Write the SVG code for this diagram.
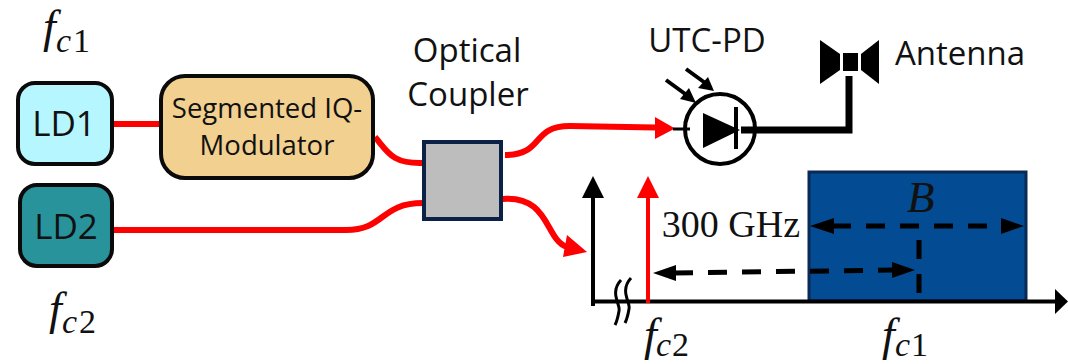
<svg xmlns="http://www.w3.org/2000/svg" width="1068" height="364" viewBox="0 0 1068 364">
<style>
.t{font-family:"Open Sans","Noto Sans",sans-serif;font-size:32px;fill:#111;text-anchor:middle}
.m{font-family:"Liberation Serif",serif;font-style:italic;fill:#111}
.f{font-size:46px}
.s{font-size:34px}
.u{font-style:normal}
.box{stroke:#0a0a0a;stroke-width:4}
.r{fill:none;stroke:#f00;stroke-width:6}
.k{fill:none;stroke:#000}
.d{fill:none;stroke:#000;stroke-width:5;stroke-dasharray:19 15}
</style>
<rect width="1068" height="364" fill="#fff"/>
<g id="connectors">
<path class="r" d="M113 124H161"/>
<path class="r" d="M113 230H346C385 230 380 203 423 203"/>
<path class="r" d="M375 137C388 152 392 164 423 163"/>
<path class="r" d="M505 155C545 155 530 126 570 126L655 127.500"/>
<polygon points="655,117 675,128.500 655,139" fill="#f00"/>
<path class="r" d="M502 199C550 195 545 240 567 247"/>
<polygon points="567,235 587,252 563,257" fill="#f00"/>
<path class="k" stroke-width="3" d="M673 129H690"/>
<path class="k" stroke-width="7" d="M741 130H849V76"/>
</g>
<g id="ld1"><rect class="box" x="18" y="83" width="94" height="81" rx="17" fill="#b5f6ff"/><text class="t" x="64" y="136" style="font-size:35px">LD1</text></g>
<g id="ld2"><rect class="box" x="20" y="185" width="92" height="81" rx="17" fill="#29939c"/><text class="t" x="66" y="239" style="font-size:35px">LD2</text></g>
<g id="modulator"><rect class="box" x="161" y="76" width="212" height="102" rx="24" fill="#f2d08f"/><text class="t" x="267" y="118" style="font-size:27.500px">Segmented IQ-</text><text class="t" x="267" y="155" style="font-size:27.500px">Modulator</text></g>
<g id="coupler"><rect x="424" y="142" width="77" height="77" fill="#bdbdbd" stroke="#0b2145" stroke-width="4"/><text class="t" x="467" y="62" style="font-size:33px">Optical</text><text class="t" x="468" y="106" style="font-size:33px">Coupler</text></g>
<g id="utc-pd">
<circle cx="720" cy="129" r="35" fill="none" stroke="#000" stroke-width="4"/>
<polygon points="703,113 740,130 703,148"/>
<path class="k" stroke-width="4" d="M736 107V149"/>
<path class="k" stroke-width="4" d="M666 80L688 96M686 69L708 85"/>
<polygon points="689,88 696,103 680,99"/>
<polygon points="708,77 714,91 698,88"/>
<text class="t" x="707" y="52" style="font-size:33px">UTC-PD</text>
</g>
<g id="antenna">
<rect x="843" y="53" width="15" height="18"/>
<polygon points="820,40 840,54 840,70 820,84"/>
<polygon points="879,40 861,54 861,70 879,84"/>
<text class="t" x="960" y="65" style="font-size:33px">Antenna</text>
</g>
<g id="spectrum">
<rect x="809" y="172" width="217" height="129" fill="#034b93" stroke="#0a2a55" stroke-width="3"/>
<path class="k" stroke-width="4" d="M593 306V196M593 301.500H1058"/>
<polygon points="582,198 593,176 604,198"/>
<polygon points="1055,289 1068,301.500 1068,301.500 1055,314"/>
<path class="k" stroke="#f00" style="stroke:#f00" stroke-width="4" d="M648 303V196"/>
<polygon points="637,198 648,176 659,198" fill="#f00"/>
<path class="k" stroke-width="3" d="M621 280C609 293 621 305 619 311C618 317 617 321 615 325M631 278C619 291 631 303 629 309C628 315 627 319 625 323"/>
<path class="d" d="M832 226H1003"/>
<polygon points="810,226 834,218 834,234"/>
<polygon points="1024,226 1001,218 1001,234"/>
<path class="d" d="M919 240V294"/>
<path class="d" d="M674 273L894 270"/>
<polygon points="653,273 676,265 676,281"/>
<polygon points="915,270 892,262 892,278"/>
<text x="731" y="237" style="font-family:'Liberation Serif',serif;font-size:38px;fill:#111;text-anchor:middle">300 GHz</text>
<text class="m" x="907" y="212" font-size="45">B</text>
</g>
<g id="labels">
<text class="m"><tspan class="f" x="43" y="42">f</tspan><tspan class="s" x="56" y="52">c</tspan><tspan class="s u" x="73" y="52">1</tspan></text>
<text class="m"><tspan class="f" x="49" y="324">f</tspan><tspan class="s" x="62" y="333">c</tspan><tspan class="s u" x="79" y="333">2</tspan></text>
<text class="m"><tspan class="f" x="644" y="350">f</tspan><tspan class="s" x="656" y="356">c</tspan><tspan class="s u" x="672" y="356">2</tspan></text>
<text class="m"><tspan class="f" x="882" y="350">f</tspan><tspan class="s" x="895" y="356">c</tspan><tspan class="s u" x="911" y="356">1</tspan></text>
</g>
</svg>
